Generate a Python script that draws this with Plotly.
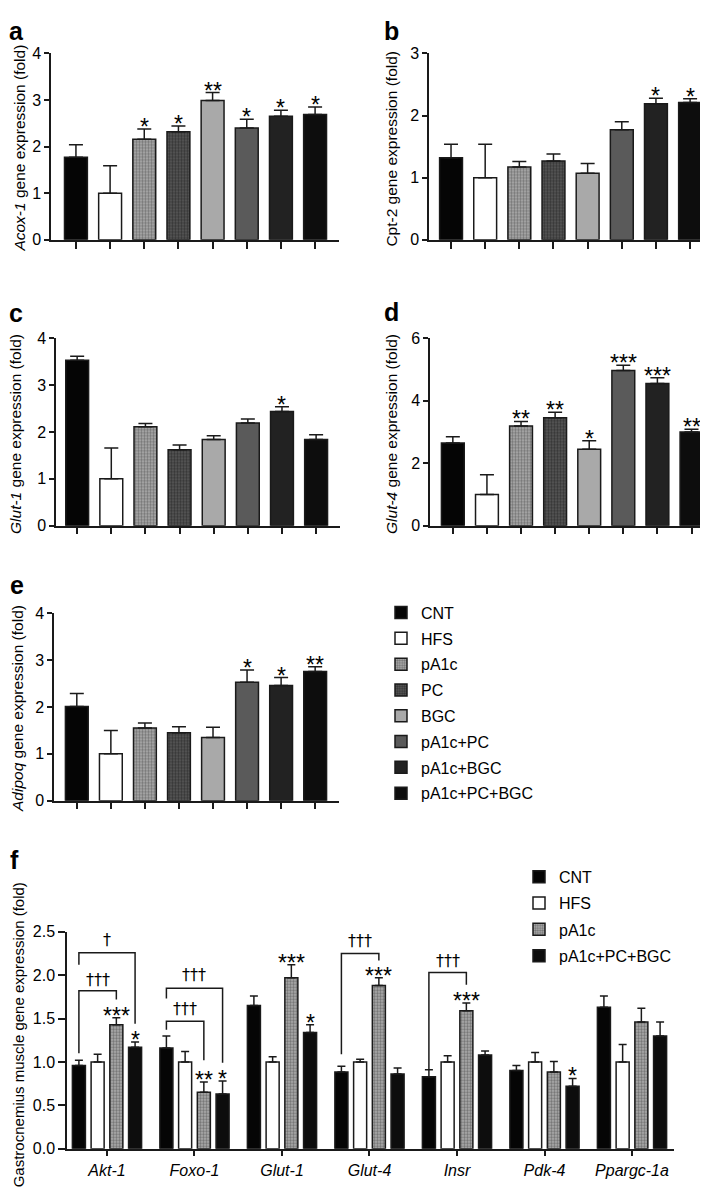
import plotly.graph_objects as go

W, H = 708, 1197

# groups used in panels a-e
groups = ["CNT", "HFS", "pA1c", "PC", "BGC", "pA1c+PC", "pA1c+BGC", "pA1c+PC+BGC"]

acox1_mean = [1.77, 1.00, 2.16, 2.32, 2.99, 2.40, 2.65, 2.69]
acox1_sem = [0.27, 0.59, 0.22, 0.12, 0.17, 0.19, 0.13, 0.16]
acox1_sig = ["", "", "*", "*", "**", "*", "*", "*"]

cpt2_mean = [1.32, 1.00, 1.17, 1.27, 1.07, 1.77, 2.19, 2.21]
cpt2_sem = [0.22, 0.54, 0.09, 0.11, 0.16, 0.13, 0.09, 0.06]
cpt2_sig = ["", "", "", "", "", "", "*", "*"]

glut1_mean = [3.53, 1.00, 2.11, 1.62, 1.84, 2.19, 2.44, 1.84]
glut1_sem = [0.09, 0.66, 0.07, 0.10, 0.08, 0.09, 0.10, 0.10]
glut1_sig = ["", "", "", "", "", "", "*", ""]

glut4_mean = [2.65, 1.00, 3.19, 3.46, 2.45, 4.97, 4.55, 3.00]
glut4_sem = [0.20, 0.63, 0.15, 0.17, 0.27, 0.17, 0.19, 0.09]
glut4_sig = ["", "", "**", "**", "*", "***", "***", "**"]

adipoq_mean = [2.01, 1.00, 1.55, 1.45, 1.35, 2.53, 2.46, 2.76]
adipoq_sem = [0.28, 0.50, 0.11, 0.13, 0.22, 0.26, 0.17, 0.10]
adipoq_sig = ["", "", "", "", "", "*", "*", "**"]

# panel f: gastrocnemius muscle
muscle_genes = ["Akt-1", "Foxo-1", "Glut-1", "Glut-4", "Insr", "Pdk-4", "Ppargc-1a"]
muscle_groups = ["CNT", "HFS", "pA1c", "pA1c+PC+BGC"]
muscle_mean = {
    "CNT": [0.96, 1.16, 1.65, 0.885, 0.83, 0.90, 1.63],
    "HFS": [1.00, 1.00, 1.00, 1.00, 1.00, 1.00, 1.00],
    "pA1c": [1.43, 0.65, 1.97, 1.88, 1.59, 0.885, 1.46],
    "pA1c+PC+BGC": [1.17, 0.63, 1.34, 0.86, 1.08, 0.72, 1.30],
}
muscle_sem = {
    "CNT": [0.06, 0.14, 0.11, 0.065, 0.08, 0.06, 0.13],
    "HFS": [0.09, 0.12, 0.06, 0.03, 0.07, 0.11, 0.20],
    "pA1c": [0.08, 0.12, 0.15, 0.09, 0.09, 0.12, 0.16],
    "pA1c+PC+BGC": [0.06, 0.15, 0.09, 0.07, 0.045, 0.09, 0.16],
}
muscle_sig = {
    "CNT": ["", "", "", "", "", "", ""],
    "HFS": ["", "", "", "", "", "", ""],
    "pA1c": ["***", "**", "***", "***", "***", "", ""],
    "pA1c+PC+BGC": ["*", "*", "*", "", "", "*", ""],
}
# dagger brackets: gene index, from bar, to bar, top, left leg end, right leg end, label, label y
brackets = [
    (0, 0, 3, 2.26, 2.12, 1.44, "†", 2.41),
    (0, 0, 2, 1.82, 1.10, 1.72, "†††", 1.95),
    (1, 0, 3, 1.85, 1.73, 0.99, "†††", 2.01),
    (1, 0, 2, 1.47, 1.37, 1.02, "†††", 1.62),
    (3, 0, 2, 2.25, 1.09, 2.17, "†††", 2.40),
    (4, 0, 2, 2.03, 0.92, 1.89, "†††", 2.17),
]

# fill styles per group
style = {
    "CNT": dict(color="#050505"),
    "HFS": dict(color="#ffffff"),
    "pA1c": dict(color="#8a8a8a", pattern=dict(shape=".", bgcolor="#b0b0b0", fgcolor="#383838", size=3, solidity=0.5)),
    "PC": dict(color="#383838", pattern=dict(shape=".", bgcolor="#5a5a5a", fgcolor="#101010", size=3, solidity=0.5)),
    "BGC": dict(color="#a9a9a9"),
    "pA1c+PC": dict(color="#5a5a5a"),
    "pA1c+BGC": dict(color="#222222"),
    "pA1c+PC+BGC": dict(color="#0d0d0d"),
}

FONT = "Liberation Sans, Arial, sans-serif"
INK = "#1a1a1a"


def fx(p):
    return p / W


def fy(p):
    return 1 - p / H


# panel layout: letter, data, axis id, x px span, y px span, x range, y max, dtick, title, title x, letter pos
panels = [
    ("a", acox1_mean, acox1_sem, acox1_sig, 1, (43, 331), (38, 227), (-0.73, 7.7), 4, 1,
     "<i>Acox-1</i> gene expression (fold)", 12, (0, 0)),
    ("b", cpt2_mean, cpt2_sem, cpt2_sig, 2, (421, 706), (38, 227), (-0.645, 7.7), 3, 1,
     "Cpt-2 gene expression (fold)", 384, (375, 0)),
    ("c", glut1_mean, glut1_sem, glut1_sig, 3, (48, 332), (327, 517), (-0.62, 7.7), 4, 1,
     "<i>Glut-1</i> gene expression (fold)", 8, (0, 286)),
    ("d", glut4_mean, glut4_sem, glut4_sig, 4, (422, 706), (327, 517), (-0.67, 7.66), 6, 2,
     "<i>Glut-4</i> gene expression (fold)", 384, (375, 285)),
    ("e", adipoq_mean, adipoq_sem, adipoq_sig, 5, (46, 331), (606, 796), (-0.67, 7.7), 4, 1,
     "<i>Adipoq</i> gene expression (fold)", 9, (1, 562)),
]

fig = go.Figure()
annotations = []
axis_common = dict(showgrid=False, zeroline=False, showline=True, linecolor=INK, linewidth=1.5,
                   ticks="outside", tickcolor=INK, tickwidth=1.5,
                   tickfont=dict(family=FONT, size=16, color="black"))
star_font = dict(family=FONT, size=23, color="black")
letter_font = dict(family=FONT, size=25, color="black")

for letter, mean, sem, sig, k, xs, ys, xr, ymax, dt, title, tx, lp in panels:
    xa = "x" if k == 1 else f"x{k}"
    ya = "y" if k == 1 else f"y{k}"
    for i, g in enumerate(groups):
        st = style[g]
        marker = dict(color=st["color"], line=dict(color=INK, width=1.5))
        if "pattern" in st:
            marker["pattern"] = st["pattern"]
        fig.add_trace(go.Bar(
            x=[i], y=[mean[i]], width=0.67, name=g, marker=marker,
            error_y=dict(type="data", symmetric=False, array=[sem[i]], arrayminus=[0],
                         color=INK, thickness=1.5, width=7),
            xaxis=xa, yaxis=ya, legend="legend", legendgroup=g,
            showlegend=(letter == "e"),
        ))
        if sig[i]:
            annotations.append(dict(x=i, y=mean[i] + sem[i], xref=xa, yref=ya, text=sig[i],
                                    showarrow=False, yanchor="bottom", yshift=-13,
                                    font=star_font))
    lay = dict(axis_common)
    fig.layout[f"xaxis{k if k > 1 else ''}"] = dict(
        lay, domain=[fx(xs[0]), fx(xs[1])], range=list(xr), anchor=ya,
        tickvals=list(range(8)), ticktext=[""] * 8, ticklen=7)
    fig.layout[f"yaxis{k if k > 1 else ''}"] = dict(
        lay, domain=[fy(ys[1]), fy(ys[0])], range=[0, ymax], anchor=xa, dtick=dt, ticklen=5)
    annotations.append(dict(x=fx(tx), y=fy((ys[0] + ys[1]) / 2 + 2), xref="paper", yref="paper",
                            text=title, textangle=-90, showarrow=False,
                            xanchor="center", yanchor="middle",
                            font=dict(family=FONT, size=15.5, color="black")))
    annotations.append(dict(x=fx(lp[0]), y=fy(lp[1]), xref="paper", yref="paper",
                            text=f"<b>{letter}</b>", showarrow=False,
                            xanchor="left", yanchor="top", borderpad=0,
                            font=letter_font))

# panel f
step = 0.214
for j, g in enumerate(muscle_groups):
    st = style[g]
    marker = dict(color=st["color"], line=dict(color=INK, width=1.5))
    if "pattern" in st:
        marker["pattern"] = st["pattern"]
    xs_f = [i + (j - 1.5) * step for i in range(len(muscle_genes))]
    fig.add_trace(go.Bar(
        x=xs_f, y=muscle_mean[g], width=0.149, name=g, marker=marker,
        error_y=dict(type="data", symmetric=False, array=muscle_sem[g],
                     arrayminus=[0] * len(muscle_genes), color=INK, thickness=1.5, width=4),
        xaxis="x6", yaxis="y6", legend="legend2", legendgroup="f_" + g,
    ))
    for i, s in enumerate(muscle_sig[g]):
        if s:
            annotations.append(dict(x=xs_f[i], y=muscle_mean[g][i] + muscle_sem[g][i],
                                    xref="x6", yref="y6", text=s, showarrow=False,
                                    yanchor="bottom", yshift=-13, font=star_font))

bx, by = [], []
for gi, b0, b1, top, l_end, r_end, lab, lab_y in brackets:
    x0 = gi + (b0 - 1.5) * step
    x1 = gi + (b1 - 1.5) * step
    bx += [x0, x0, x1, x1, None]
    by += [l_end, top, top, r_end, None]
    annotations.append(dict(x=(x0 + x1) / 2, y=lab_y, xref="x6", yref="y6", text=lab,
                            showarrow=False, yanchor="middle",
                            font=dict(family="DejaVu Sans, Liberation Sans", size=16, color="black")))
fig.add_trace(go.Scatter(x=bx, y=by, mode="lines", line=dict(color=INK, width=1.5),
                         xaxis="x6", yaxis="y6", showlegend=False, hoverinfo="skip"))

fig.layout.xaxis6 = dict(axis_common, domain=[fx(59), fx(666)], range=[-0.457, 6.48], anchor="y6",
                         tickvals=list(range(len(muscle_genes))),
                         ticktext=[f"<i>{g}</i>" for g in muscle_genes], ticklen=6,
                         tickfont=dict(family=FONT, size=16, color="black"))
fig.layout.yaxis6 = dict(axis_common, domain=[fy(1149), fy(929)], range=[0, 2.5], anchor="x6",
                         dtick=0.5, tickformat=".1f", ticklen=7)
annotations.append(dict(x=fx(10), y=fy(1034), xref="paper", yref="paper",
                        text="Gastrocnemius muscle gene expression (fold)", textangle=-90,
                        showarrow=False, xanchor="center", yanchor="middle",
                        font=dict(family=FONT, size=15, color="black")))
annotations.append(dict(x=fx(1), y=fy(841), xref="paper", yref="paper", text="<b>f</b>",
                        showarrow=False, xanchor="left", yanchor="top", borderpad=0,
                        font=letter_font))

fig.update_layout(
    width=W, height=H, margin=dict(l=0, r=0, t=0, b=0),
    paper_bgcolor="white", plot_bgcolor="white",
    barmode="overlay", annotations=annotations,
    legend=dict(x=fx(373), y=fy(588), xanchor="left", yanchor="top",
                font=dict(family=FONT, size=16, color="black"), tracegroupgap=2,
                bgcolor="rgba(0,0,0,0)"),
    legend2=dict(x=fx(511), y=fy(856), xanchor="left", yanchor="top",
                 font=dict(family=FONT, size=16, color="black"), tracegroupgap=2.5,
                 bgcolor="rgba(0,0,0,0)"),
)

fig.write_html("out.html")
